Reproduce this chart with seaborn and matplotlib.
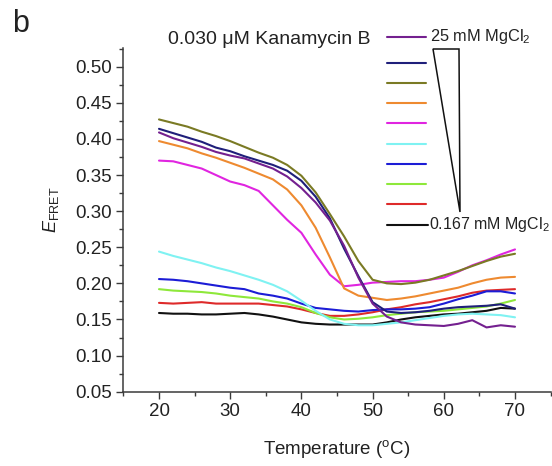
import numpy as np
import pandas as pd
import matplotlib
matplotlib.use("Agg")
import matplotlib.pyplot as plt
from matplotlib.lines import Line2D
from matplotlib.patches import Polygon
from matplotlib.ticker import MultipleLocator, FormatStrFormatter
import seaborn as sns

# Temperature grid (°C)
temperature = [20, 22, 24, 26, 28, 30, 32, 34, 36, 38, 40, 42, 44, 46, 48, 50,
               52, 54, 56, 58, 60, 62, 64, 66, 68, 70]

# E_FRET melting curves, from highest to lowest MgCl2 concentration
mg_25 = [.409, .401, .395, .389, .382, .377, .373, .366, .359, .348, .332, .312, .287,
         .252, .208, .172, .154, .146, .143, .142, .141, .144, .149, .139, .142, .140]
mg_2 = [.414, .408, .402, .396, .388, .383, .376, .370, .364, .356, .342, .320, .290,
        .248, .210, .174, .161, .159, .160, .162, .165, .167, .168, .169, .171, .165]
mg_3 = [.427, .422, .417, .410, .404, .397, .389, .381, .374, .364, .349, .326, .296,
        .265, .231, .205, .200, .199, .201, .205, .211, .217, .224, .231, .237, .241]
mg_4 = [.397, .392, .387, .380, .374, .367, .360, .352, .344, .330, .308, .277, .236,
        .193, .183, .180, .177, .179, .182, .186, .190, .194, .200, .205, .208, .209]
mg_5 = [.370, .369, .364, .359, .350, .341, .336, .328, .308, .288, .270, .240, .212,
        .196, .198, .201, .202, .203, .203, .205, .208, .216, .225, .232, .240, .247]
mg_6 = [.244, .238, .233, .228, .222, .217, .211, .205, .198, .189, .176, .162, .150,
        .144, .142, .142, .144, .146, .149, .152, .155, .157, .158, .157, .156, .153]
mg_7 = [.206, .205, .203, .200, .197, .194, .192, .186, .183, .179, .172, .166, .164,
        .162, .161, .163, .164, .164, .165, .167, .172, .178, .183, .189, .189, .186]
mg_8 = [.192, .190, .189, .188, .186, .183, .181, .179, .175, .172, .167, .159, .153,
        .150, .151, .153, .156, .158, .160, .161, .162, .164, .166, .168, .172, .177]
mg_9 = [.173, .172, .173, .174, .172, .172, .172, .172, .170, .168, .164, .159, .155,
        .155, .157, .160, .164, .167, .171, .174, .178, .182, .187, .190, .191, .192]
mg_0167 = [.159, .158, .158, .157, .157, .158, .159, .157, .154, .150, .146, .144, .143,
           .143, .143, .143, .146, .150, .153, .155, .157, .158, .160, .162, .166, .165]

series_names = ["25 mM", "c2", "c3", "c4", "c5", "c6", "c7", "c8", "c9", "0.167 mM"]
series_values = [mg_25, mg_2, mg_3, mg_4, mg_5, mg_6, mg_7, mg_8, mg_9, mg_0167]
colors = ["#74208f", "#1f1f7a", "#7a7a24", "#ee8a30", "#e025e0",
          "#7ff2f2", "#1c1cd6", "#8ee83a", "#de2a2a", "#111111"]

title_text = "0.030 μM Kanamycin B"
label_high = "25 mM MgCl$_2$"
label_low = "0.167 mM MgCl$_2$"

sns.set_style("ticks")
plt.rcParams["font.family"] = ["Liberation Sans", "DejaVu Sans"]
plt.rcParams["mathtext.fontset"] = "custom"
plt.rcParams["mathtext.rm"] = "Liberation Sans"
plt.rcParams["mathtext.it"] = "Liberation Sans:italic"

frames = []
for name, vals in zip(series_names, series_values):
    frames.append(pd.DataFrame({"T": temperature, "E": vals, "series": name}))
df = pd.concat(frames[::-1], ignore_index=True)

fig = plt.figure(figsize=(5.52, 4.66), dpi=100)
W, H = 552.0, 466.0
ax = fig.add_axes([123.4 / W, 1 - 391.7 / H, 427.2 / W, 343.4 / H])

sns.lineplot(data=df, x="T", y="E", hue="series",
             hue_order=series_names[::-1], palette=colors[::-1],
             sort=False, legend=False, linewidth=1.5, ax=ax, estimator=None)

ax.set_xlim(15, 75)
ax.set_ylim(0.05, 0.5255)
ax.set_xticks([20, 30, 40, 50, 60, 70])
ax.xaxis.set_minor_locator(MultipleLocator(5))
ax.yaxis.set_major_locator(MultipleLocator(0.05))
ax.yaxis.set_minor_locator(MultipleLocator(0.025))
ax.yaxis.set_major_formatter(FormatStrFormatter("%.2f"))
sns.despine(ax=ax)
for s in ("left", "bottom"):
    ax.spines[s].set_color("#3a3a3a")
    ax.spines[s].set_linewidth(1.1)
ax.tick_params(which="major", length=5, width=1.0, color="#3a3a3a",
               labelsize=13.5, labelcolor="#222222", pad=3)
ax.tick_params(which="minor", length=3, width=1.0, color="#3a3a3a")

ax.set_xlabel("Temperature ($^{\\mathrm{o}}$C)", fontsize=13.5, color="#222222",
              labelpad=13)
ax.set_ylabel("$\\mathit{E}_{\\mathrm{FRET}}$", fontsize=13, color="#222222")
ax.yaxis.set_label_coords(-0.146, 0.529)

# panel letter and condition
fig.text(12 / W, 1 - 24 / H, "b", fontsize=22, va="center", ha="left", color="#222222")
fig.text(168 / W, 1 - 39 / H, title_text, fontsize=14, va="center", ha="left",
         color="#222222")

# legend handles drawn as a vertical key
row_y = [36.5] + [62.5 + 20.25 * k for k in range(9)]
for i, (c, yy) in enumerate(zip(colors, row_y)):
    x1 = 428 if i == len(colors) - 1 else 426
    fig.add_artist(Line2D([387 / W, x1 / W], [1 - yy / H, 1 - yy / H],
                          color=c, linewidth=1.5, transform=fig.transFigure))
fig.text(430 / W, 1 - 36.5 / H, label_high, fontsize=11.8, va="center", ha="left",
         color="#222222")
fig.text(429 / W, 1 - 224.5 / H, label_low, fontsize=11.5, va="center", ha="left",
         color="#222222")

# wedge indicating decreasing concentration
wedge = Polygon([[433 / W, 1 - 49 / H], [459 / W, 1 - 49 / H], [460 / W, 1 - 212 / H]],
                closed=True, fill=False, edgecolor="#111111", linewidth=1.1,
                transform=fig.transFigure)
fig.add_artist(wedge)

fig.savefig("out.png", dpi=100, facecolor="white")
